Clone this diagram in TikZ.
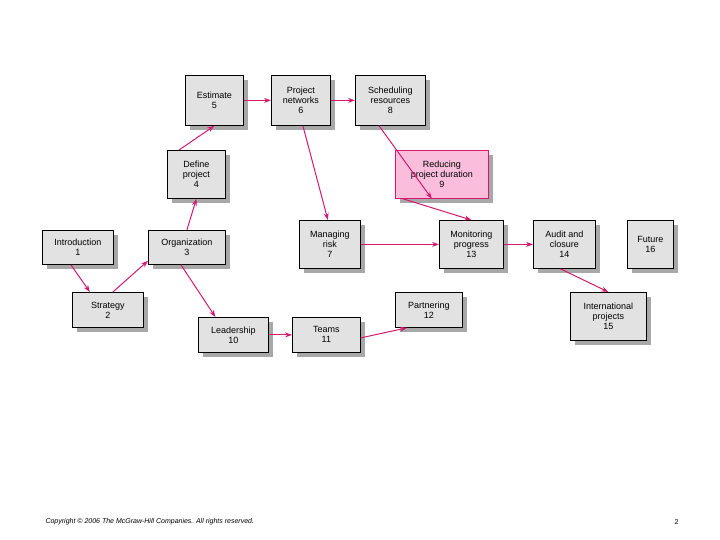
\documentclass[tikz,border=0pt]{standalone}
\usepackage{fontspec}
\setmainfont{Liberation Sans}
\usetikzlibrary{shadows,arrows.meta}
\definecolor{mag}{HTML}{D41A6E}
\definecolor{boxg}{HTML}{E2E2E2}
\definecolor{shad}{HTML}{A8A8A8}
\tikzset{
 bx/.style args={#1/#2}{draw=black,line width=0.8pt,fill=boxg,anchor=north west,
   minimum width=#1pt,minimum height=#2pt,inner sep=1pt,align=center,font=\fontsize{9}{10}\selectfont,
   drop shadow={shadow xshift=5pt,shadow yshift=-5pt,fill=shad,opacity=1}},
 pk/.style={fill=pink!70!magenta!40,draw=mag},
 ar/.style={draw=mag,line width=1pt,-{Stealth[length=7pt,width=5pt]}}
}
\begin{document}
\begin{tikzpicture}[x=1pt,y=-1pt]
\useasboundingbox (0,0) rectangle (720,540);
\node[bx=58/50] (n5) at (185,75) {Estimate\\5};
\node[bx=59/50] (n6) at (271,75) {Project\\networks\\6};
\node[bx=70/50] (n8) at (355,75) {Scheduling\\resources\\8};
\node[bx=58/48] (n4) at (167,150) {Define\\project\\4};
\node[bx=93/48,fill={rgb,255:red,250;green,190;blue,220},draw=mag] (n9) at (395,150) {Reducing\\project duration\\9};
\node[bx=71/34] (n1) at (42,230) {Introduction\\1};
\node[bx=77/34] (n3) at (148,230) {Organization\\3};
\node[bx=61/48] (n7) at (299,220) {Managing\\risk\\7};
\node[bx=64/48] (n13) at (439,220) {Monitoring\\progress\\13};
\node[bx=62/48] (n14) at (533,220) {Audit and\\closure\\14};
\node[bx=46/48] (n16) at (627,220) {Future\\16};
\node[bx=71/35] (n2) at (72,292) {Strategy\\2};
\node[bx=67/35] (n12) at (395,292) {Partnering\\12};
\node[bx=76/48] (n15) at (570,292) {International\\projects\\15};
\node[bx=70/35] (n10) at (198,317) {Leadership\\10};
\node[bx=68/35] (n11) at (292,317) {Teams\\11};

\draw[ar] ([xshift=-7pt]n1.south) -- ([xshift=-18pt]n2.north);
\draw[ar] ([xshift=5pt]n2.north) -- ([yshift=4pt]n3.south west);
\draw[ar] (n3.north) -- (n4.south);
\draw[ar] ([xshift=12pt]n4.north west) -- (n5.south);
\draw[ar] (n5.east) -- (n6.west);
\draw[ar] (n6.east) -- (n8.west);
\draw[ar] ([xshift=2pt]n6.south) -- ([xshift=-2pt]n7.north);
\draw[ar] ([xshift=24pt]n8.south west) -- ([xshift=-10pt]n9.south);
\draw[ar] ([xshift=8pt]n9.south west) -- (n13.north);
\draw[ar] (n7.east) -- (n13.west);
\draw[ar] (n13.east) -- (n14.west);
\draw[ar] ([xshift=-4pt]n14.south) -- (n15.north);
\draw[ar] ([xshift=-6pt]n3.south) -- ([xshift=-18pt]n10.north);
\draw[ar] (n10.east) -- (n11.west);
\draw[ar] ([yshift=-3pt]n11.east) -- ([xshift=12pt]n12.south west);
\node[anchor=west,font=\fontsize{7}{8}\selectfont\itshape] (cp) at (42,522) {Copyright © 2006 The McGraw-Hill Companies. All rights reserved.};
\node[anchor=east,font=\fontsize{7}{8}\selectfont] (pg) at (682,522) {2};
\end{tikzpicture}
\end{document}
